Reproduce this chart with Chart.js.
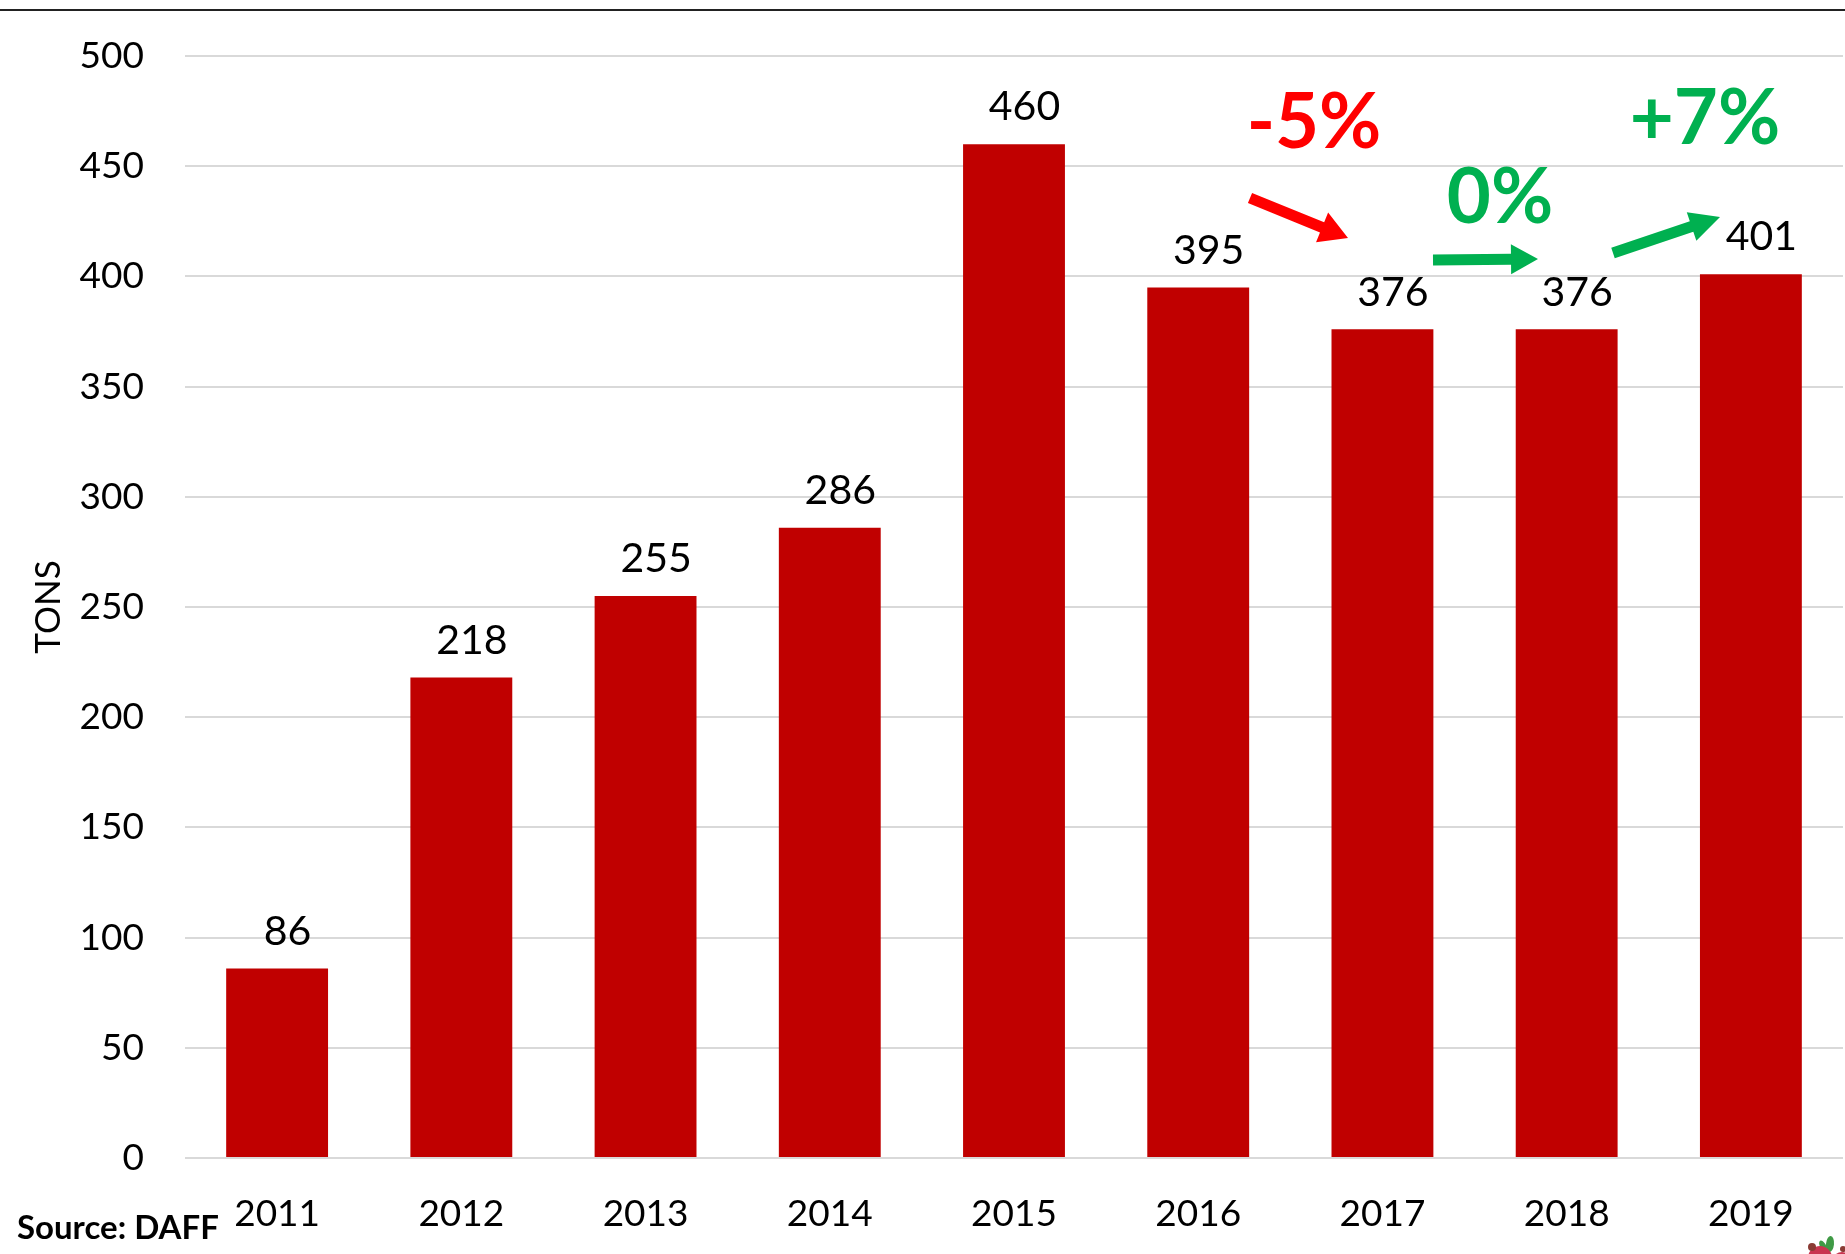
<!DOCTYPE html>
<html><head><meta charset="utf-8">
<style>html,body{margin:0;padding:0;background:#fff}canvas{display:block}</style>
<script src="https://cdn.jsdelivr.net/npm/chart.js@4"></script>
</head><body><canvas id="c" width="1845" height="1254"></canvas>
<script>
const years = ['2011','2012','2013','2014','2015','2016','2017','2018','2019'];
const tons = [86,218,255,286,460,395,376,376,401];
const axisTitle = 'TONS';
const sourceText = 'Source: DAFF';
const changeTexts = ['-5%','0%','+7%'];
const FONT = 'Lato, "Open Sans", sans-serif';
const RED = '#FF0000', GREEN = '#00B050';

function arrow(ctx,x0,y0,x1,y1,color,sw,hw,hl){
  const a=Math.atan2(y1-y0,x1-x0);
  ctx.save();ctx.translate(x0,y0);ctx.rotate(a);
  const L=Math.hypot(x1-x0,y1-y0);
  ctx.fillStyle=color;ctx.beginPath();
  ctx.moveTo(0,-sw/2);ctx.lineTo(L-hl,-sw/2);ctx.lineTo(L-hl,-hw/2);ctx.lineTo(L,0);
  ctx.lineTo(L-hl,hw/2);ctx.lineTo(L-hl,sw/2);ctx.lineTo(0,sw/2);ctx.closePath();ctx.fill();
  ctx.restore();
}
const overlay={id:'overlay',
 afterDatasetsDraw(chart){
  const ctx=chart.ctx,x=chart.scales.x,y=chart.scales.y;
  ctx.save();
  ctx.fillStyle='#000';ctx.font='41px '+FONT;ctx.textAlign='center';ctx.textBaseline='middle';
  tons.forEach((v,i)=>ctx.fillText(String(v),x.getPixelForValue(i)+10.5,y.getPixelForValue(v)-37));
  ctx.fillStyle='#222';ctx.fillRect(0,9,1845,2);
  ctx.fillStyle='#000';ctx.font='bold 33px '+FONT;ctx.textAlign='left';
  ctx.fillText(sourceText,17,1228);
  ctx.textAlign='center';ctx.font='bold 76px '+FONT;
  ctx.fillStyle=RED;ctx.fillText(changeTexts[0],1314,123);
  ctx.fillStyle=GREEN;ctx.fillText(changeTexts[1],1500,198);
  ctx.fillText(changeTexts[2],1705,119);
  arrow(ctx,1250,198,1348,238,RED,11,32,28);
  arrow(ctx,1433,260,1538,259,GREEN,11,30,27);
  arrow(ctx,1613,253,1720,217,GREEN,11,30,30);
  // small pomegranate mark, bottom-right corner
  ctx.fillStyle='#3f9a45';
  ctx.beginPath();ctx.ellipse(1830,1244,4,8,0.1,0,7);ctx.fill();
  ctx.beginPath();ctx.ellipse(1823,1246,3,6,-0.5,0,7);ctx.fill();
  ctx.fillStyle='#c9354f';
  ctx.beginPath();ctx.arc(1820,1258,12,0,7);ctx.fill();
  ctx.beginPath();ctx.arc(1842,1262,10,0,7);ctx.fill();
  ctx.fillStyle='#8a3b34';
  ctx.beginPath();ctx.arc(1812,1247,4,0,7);ctx.fill();
  ctx.beginPath();ctx.arc(1843,1249,3,0,7);ctx.fill();
  ctx.restore();
 }};
new Chart(document.getElementById('c'),{
  type:'bar',
  data:{labels:years,datasets:[{data:tons,backgroundColor:'#C00000',barPercentage:0.553,categoryPercentage:1}]},
  options:{
    responsive:false,animation:false,
    layout:{padding:{top:56,left:0,right:2,bottom:0}},
    plugins:{legend:{display:false},tooltip:{enabled:false}},
    scales:{
      x:{grid:{display:false},border:{display:false},
        ticks:{color:'#000',font:{family:FONT,size:37},padding:26,maxRotation:0},
        afterFit(s){s.height=96;s.paddingLeft=0;s.paddingRight=0;}},
      y:{min:0,max:500,
        grid:{color:'#d9d9d9',lineWidth:2,drawTicks:false},border:{display:false},
        ticks:{stepSize:50,color:'#000',font:{family:FONT,size:37},padding:41},
        title:{display:true,text:axisTitle,color:'#000',font:{family:FONT,size:35},padding:{top:28,bottom:0}},
        afterFit(s){s.width=185;s.paddingTop=0;s.paddingBottom=0;}}
    }
  },
  plugins:[overlay]
});
</script></body></html>
